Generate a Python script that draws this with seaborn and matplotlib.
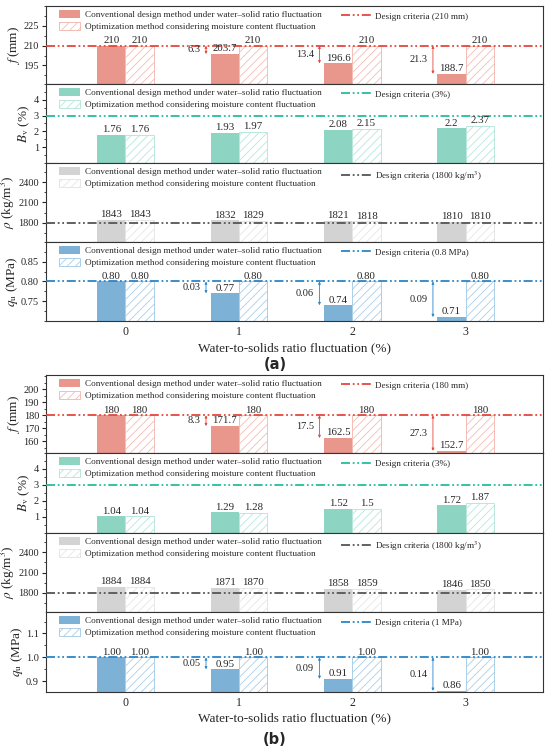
import matplotlib.pyplot as plt
import numpy as np
import pandas as pd
import seaborn as sns
from matplotlib.lines import Line2D
from matplotlib.patches import Patch
from matplotlib.ticker import MultipleLocator

sns.set_style("ticks")
plt.rcParams.update({
    "font.family": ["Liberation Serif", "DejaVu Serif"],
    "mathtext.fontset": "stix",
    "font.size": 7,
    "xtick.labelsize": 8.5,
    "ytick.labelsize": 7.5,
    "axes.linewidth": 0.8,
    "hatch.linewidth": 0.6,
    "xtick.direction": "in",
    "ytick.direction": "out",
    "xtick.major.size": 3,
    "ytick.major.size": 3,
    "ytick.minor.size": 1.8,
    "ytick.major.pad": 2,
    "axes.edgecolor": "#333333",
})

fluct = ["0", "1", "2", "3"]
CONV = "Conventional design method under water\u2013solid ratio fluctuation"
OPT = "Optimization method considering moisture content fluctuation"

# (a)
a_f_conv = [210, 203.7, 196.6, 188.7]
a_f_opt = [210, 210, 210, 210]
a_f_diff = [None, 6.3, 13.4, 21.3]
a_bv_conv = [1.76, 1.93, 2.08, 2.2]
a_bv_opt = [1.76, 1.97, 2.15, 2.37]
a_rho_conv = [1843, 1832, 1821, 1810]
a_rho_opt = [1843, 1829, 1818, 1810]
a_qu_conv = [0.80, 0.77, 0.74, 0.71]
a_qu_opt = [0.80, 0.80, 0.80, 0.80]
a_qu_diff = [None, 0.03, 0.06, 0.09]

# (b)
b_f_conv = [180, 171.7, 162.5, 152.7]
b_f_opt = [180, 180, 180, 180]
b_f_diff = [None, 8.3, 17.5, 27.3]
b_bv_conv = [1.04, 1.29, 1.52, 1.72]
b_bv_opt = [1.04, 1.28, 1.5, 1.87]
b_rho_conv = [1884, 1871, 1858, 1846]
b_rho_opt = [1884, 1870, 1859, 1850]
b_qu_conv = [1.00, 0.95, 0.91, 0.86]
b_qu_opt = [1.00, 1.00, 1.00, 1.00]
b_qu_diff = [None, 0.05, 0.09, 0.14]

STYLE = {
    "f": dict(conv="#E9968C", edge="#F5BCB5", line="#E5483C"),
    "bv": dict(conv="#8ED4C3", edge="#B9E7DC", line="#25BE9C"),
    "rho": dict(conv="#D3D3D3", edge="#E6E6E6", line="#555555"),
    "qu": dict(conv="#7DB1D6", edge="#ABCFE9", line="#2A86C8"),
}
DASHES = (5, 1.5, 1, 1.5, 1, 1.5)

W, H = 550, 749
LEFT, RIGHT = 46, 543


def panel_rect(top, bottom):
    return [LEFT / W, 1 - bottom / H, (RIGHT - LEFT) / W, (bottom - top) / H]


def draw_panel(ax, kind, conv, opt, design, design_label, ylabel, ylim, yticks,
               minor, fmt, diff=None, diff_fmt=None, bottom=False):
    st = STYLE[kind]
    df = pd.DataFrame({
        "fluct": fluct * 2,
        "value": list(conv) + list(opt),
        "method": [CONV] * 4 + [OPT] * 4,
    })
    sns.barplot(data=df, x="fluct", y="value", hue="method", hue_order=[CONV, OPT],
                palette=[st["conv"], "white"], saturation=1, width=0.5, legend=False,
                ax=ax, errorbar=None, zorder=2)
    for p in ax.containers[0]:
        p.set_edgecolor("none")
    for p in ax.containers[1]:
        p.set_edgecolor(st["edge"])
        p.set_hatch("////")
        p.set_linewidth(0.7)

    ax.axhline(design, color=st["line"], lw=1.3, dashes=DASHES, zorder=3)

    for i in range(4):
        ax.annotate(fmt.format(conv[i]), (i - 0.125, conv[i]), xytext=(0, 0.5),
                    textcoords="offset points", ha="center", va="bottom", fontsize=7.8)
        ax.annotate(fmt.format(opt[i]), (i + 0.125, opt[i]), xytext=(0, 0.5),
                    textcoords="offset points", ha="center", va="bottom", fontsize=7.8)
        if diff is not None and diff[i] is not None:
            xa = i - 0.29
            ax.annotate("", xy=(xa, conv[i]), xytext=(xa, design),
                        arrowprops=dict(arrowstyle="<|-|>", color=st["line"], lw=0.6,
                                        mutation_scale=3.5, shrinkA=0, shrinkB=0))
            ax.text(xa - 0.05, (conv[i] + design) / 2, diff_fmt.format(diff[i]),
                    ha="right", va="center", fontsize=7.5)

    ax.set_xlim(-0.7, 3.68)
    ax.set_ylim(*ylim)
    ax.set_yticks(yticks)
    ax.yaxis.set_minor_locator(MultipleLocator(minor))
    ax.set_ylabel(ylabel, fontsize=9.5, labelpad=1)
    ax.set_xlabel("")
    ax.tick_params(axis="x", which="both", top=False, length=3)
    ax.set_xticks(range(4))
    if bottom:
        ax.set_xticklabels(fluct)
    else:
        ax.set_xticklabels([])
    for s in ax.spines.values():
        s.set_visible(True)

    h_main = [Patch(facecolor=st["conv"], edgecolor="none"),
              Patch(facecolor="white", edgecolor=st["edge"], hatch="////", linewidth=0.7)]
    leg1 = ax.legend(h_main, [CONV, OPT], loc="upper left", bbox_to_anchor=(0.015, 1.02),
                     frameon=False, fontsize=6.6, handlelength=2.3, handleheight=0.95,
                     labelspacing=0.3, handletextpad=0.5, borderaxespad=0.2)
    ax.add_artist(leg1)
    h_line = [Line2D([], [], color=st["line"], lw=1.3, dashes=DASHES)]
    ax.legend(h_line, [design_label], loc="upper left", bbox_to_anchor=(0.583, 0.99),
              frameon=False, fontsize=6.6, handlelength=3.4, handletextpad=0.3,
              borderaxespad=0.2)


fig = plt.figure(figsize=(W / 100, H / 100), dpi=100)

groups = [
    ([6, 84, 163, 242, 321], dict(
        f=(a_f_conv, a_f_opt, 210, "Design criteria (210 mm)", (181, 240), [195, 210, 225], 7.5, a_f_diff),
        bv=(a_bv_conv, a_bv_opt, 3, "Design criteria (3%)", (0, 5), [1, 2, 3, 4], 0.5),
        rho=(a_rho_conv, a_rho_opt, 1800, "Design criteria (1800 kg/m$^3$)", (1510, 2690), [1800, 2100, 2400], 150),
        qu=(a_qu_conv, a_qu_opt, 0.8, "Design criteria (0.8 MPa)", (0.70, 0.90), [0.75, 0.80, 0.85], 0.025, a_qu_diff),
    ), "(a)", 348, 364),
    ([375, 453, 533, 612, 692], dict(
        f=(b_f_conv, b_f_opt, 180, "Design criteria (180 mm)", (151, 211), [160, 170, 180, 190, 200], 5, b_f_diff),
        bv=(b_bv_conv, b_bv_opt, 3, "Design criteria (3%)", (0, 5), [1, 2, 3, 4], 0.5),
        rho=(b_rho_conv, b_rho_opt, 1800, "Design criteria (1800 kg/m$^3$)", (1510, 2690), [1800, 2100, 2400], 150),
        qu=(b_qu_conv, b_qu_opt, 1.0, "Design criteria (1 MPa)", (0.855, 1.19), [0.9, 1.0, 1.1], 0.05, b_qu_diff),
    ), "(b)", 718, 739),
]

ylabels = {
    "f": r"$f\,$(mm)",
    "bv": r"$B_{\mathrm{v}}$ (%)",
    "rho": r"$\rho$ (kg/m$^3$)",
    "qu": r"$q_{\mathrm{u}}$ (MPa)",
}

xc = (LEFT + RIGHT) / 2 / W
for bounds, spec, tag, ylab_y, tag_y in groups:
    for k, kind in enumerate(["f", "bv", "rho", "qu"]):
        ax = fig.add_axes(panel_rect(bounds[k], bounds[k + 1]))
        args = spec[kind]
        conv, opt, design, dlabel, ylim, yticks, minor = args[:7]
        diff = args[7] if len(args) > 7 else None
        if kind == "qu":
            fmt = "{:.2f}"
            dfmt = "{:.2f}"
        else:
            fmt = "{:g}"
            dfmt = "{:.1f}"
        draw_panel(ax, kind, conv, opt, design, dlabel, ylabels[kind], ylim, yticks,
                   minor, fmt, diff=diff, diff_fmt=dfmt, bottom=(kind == "qu"))
        if kind == "qu" and tag == "(b)":
            ax.set_yticklabels(["0.9", "1.0", "1.1"])
    fig.text(xc, 1 - ylab_y / H, "Water-to-solids ratio fluctuation (%)",
             ha="center", va="center", fontsize=9.5)
    fig.text(0.5, 1 - tag_y / H, tag, ha="center", va="center", fontsize=10.5,
             fontweight="bold", family=["DejaVu Sans"])

fig.savefig("out.png", dpi=100)
